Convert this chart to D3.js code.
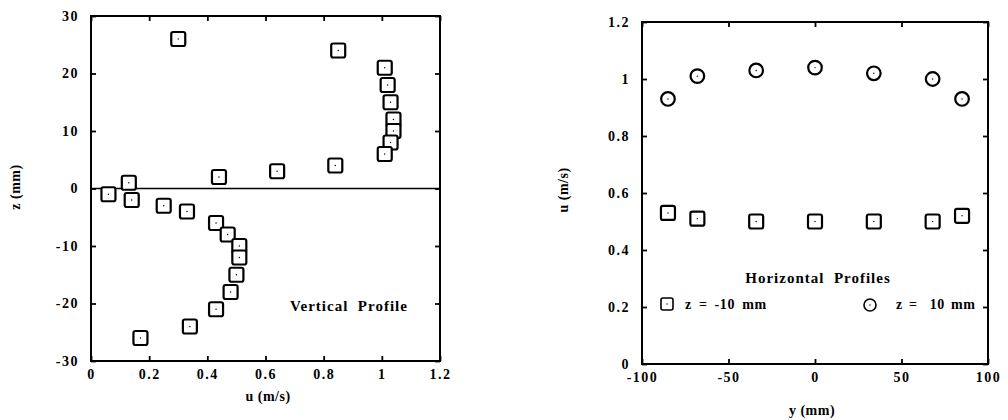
<!DOCTYPE html>
<html>
<head>
<meta charset="utf-8">
<script src="https://cdn.jsdelivr.net/npm/d3@7"></script>
<style>
  body { margin: 0; background: #fff; }
  text { font-family: "Liberation Serif", "DejaVu Serif", serif; font-weight: bold; fill: #000; }
</style>
</head>
<body>
<div id="chart"></div>
<script>
// Vertical profile data (left panel)
var vertU = [0.30, 0.85, 1.01, 1.02, 1.03, 1.04, 1.04, 1.03, 1.01, 0.84, 0.64, 0.44, 0.13, 0.06, 0.14, 0.25, 0.33, 0.43, 0.47, 0.51, 0.51, 0.50, 0.48, 0.43, 0.34, 0.17];
var vertZ = [26, 24, 21, 18, 15, 12, 10, 8, 6, 4, 3, 2, 1, -1, -2, -3, -4, -6, -8, -10, -12, -15, -18, -21, -24, -26];

// Horizontal profile data (right panel)
var horizY = [-85, -68, -34, 0, 34, 68, 85];
var uMinus10 = [0.53, 0.51, 0.50, 0.50, 0.50, 0.50, 0.52];
var uPlus10 = [0.93, 1.01, 1.03, 1.04, 1.02, 1.00, 0.93];

// Tick values
var leftXTicks = [0, 0.2, 0.4, 0.6, 0.8, 1, 1.2];
var leftYTicks = [-30, -20, -10, 0, 10, 20, 30];
var rightXTicks = [-100, -50, 0, 50, 100];
var rightYTicks = [0, 0.2, 0.4, 0.6, 0.8, 1, 1.2];

var svgWidth = 1008;
var svgHeight = 420;

var svg = d3.select("#chart")
  .append("svg")
  .attr("width", svgWidth)
  .attr("height", svgHeight);

var fmt = d => String(d).replace("\u2212", "-");

// draws frame + inward ticks on all four sides
function drawFrame(x, y, xTicks, yTicks) {
  var x0 = x.range()[0], x1 = x.range()[1];
  var y0 = y.range()[0], y1 = y.range()[1];

  svg.append("g")
    .attr("transform", `translate(0, ${y0})`)
    .call(d3.axisBottom(x).tickValues(xTicks).tickFormat(fmt).tickSizeInner(-5).tickSizeOuter(0).tickPadding(8))
    .call(g => g.select(".domain").remove());
  svg.append("g")
    .attr("transform", `translate(0, ${y1})`)
    .call(d3.axisTop(x).tickValues(xTicks).tickFormat("").tickSizeInner(-5).tickSizeOuter(0))
    .call(g => g.select(".domain").remove());
  svg.append("g")
    .attr("transform", `translate(${x0}, 0)`)
    .call(d3.axisLeft(y).tickValues(yTicks).tickFormat(fmt).tickSizeInner(-5).tickSizeOuter(0).tickPadding(12))
    .call(g => g.select(".domain").remove());
  svg.append("g")
    .attr("transform", `translate(${x1}, 0)`)
    .call(d3.axisRight(y).tickValues(yTicks).tickFormat("").tickSizeInner(-5).tickSizeOuter(0))
    .call(g => g.select(".domain").remove());

  svg.selectAll(".tick line").attr("stroke", "#000").attr("stroke-width", 1.8);
  svg.selectAll(".tick text")
    .attr("font-size", "14px")
    .attr("font-family", "Liberation Serif, serif")
    .attr("font-weight", "bold")
    .attr("letter-spacing", "1.5px")
    .attr("fill", "#000");

  svg.append("rect")
    .attr("x", x0)
    .attr("y", y1)
    .attr("width", x1 - x0)
    .attr("height", y0 - y1)
    .attr("fill", "none")
    .attr("stroke", "#000")
    .attr("stroke-width", 2);
}

function squareMark(g, cx, cy, s, sw) {
  s = s || 14;
  g.append("rect")
    .attr("x", cx - s / 2).attr("y", cy - s / 2)
    .attr("width", s).attr("height", s)
    .attr("rx", 2)
    .attr("fill", "#fff")
    .attr("stroke", "#000")
    .attr("stroke-width", sw || 2.2);
  g.append("circle").attr("cx", cx).attr("cy", cy).attr("r", 0.7).attr("fill", "#000");
}

function circleMark(g, cx, cy, r, sw) {
  g.append("circle")
    .attr("cx", cx).attr("cy", cy)
    .attr("r", r || 6.8)
    .attr("fill", "#fff")
    .attr("stroke", "#000")
    .attr("stroke-width", sw || 2.2);
  g.append("circle").attr("cx", cx).attr("cy", cy).attr("r", 0.7).attr("fill", "#000");
}

// ---------- Left panel: vertical profile ----------
var xL = d3.scaleLinear().domain([0, 1.2]).range([91, 440]);
var yL = d3.scaleLinear().domain([-30, 30]).range([361, 16]);

drawFrame(xL, yL, leftXTicks, leftYTicks);

// zero line
svg.append("line")
  .attr("x1", xL(0)).attr("x2", xL(1.2))
  .attr("y1", yL(0)).attr("y2", yL(0))
  .attr("stroke", "#000")
  .attr("stroke-width", 1.5);

vertU.forEach(function(u, i) {
  squareMark(svg.append("g"), xL(u), yL(vertZ[i]));
});

svg.append("text")
  .attr("x", 349).attr("y", 311)
  .attr("text-anchor", "middle")
  .attr("font-size", "15px")
  .attr("letter-spacing", "1px")
  .attr("xml:space", "preserve")
  .text("Vertical  Profile");

svg.append("text")
  .attr("x", 268).attr("y", 401)
  .attr("text-anchor", "middle")
  .attr("font-size", "14px")
  .attr("letter-spacing", "0.5px")
  .text("u (m/s)");

svg.append("text")
  .attr("transform", "translate(20, 187) rotate(-90)")
  .attr("text-anchor", "middle")
  .attr("font-size", "14px")
  .attr("letter-spacing", "0.5px")
  .text("z (mm)");

// ---------- Right panel: horizontal profiles ----------
var xR = d3.scaleLinear().domain([-100, 100]).range([642, 988]);
var yR = d3.scaleLinear().domain([0, 1.2]).range([364, 22]);

drawFrame(xR, yR, rightXTicks, rightYTicks);

horizY.forEach(function(yv, i) {
  squareMark(svg.append("g"), xR(yv), yR(uMinus10[i]));
  circleMark(svg.append("g"), xR(yv), yR(uPlus10[i]));
});

svg.append("text")
  .attr("x", 818).attr("y", 283)
  .attr("text-anchor", "middle")
  .attr("font-size", "15px")
  .attr("letter-spacing", "1px")
  .attr("xml:space", "preserve")
  .text("Horizontal  Profiles");

// legend
squareMark(svg.append("g"), 667, 304, 12, 1.6);
svg.append("text")
  .attr("x", 685).attr("y", 309)
  .attr("font-size", "14px")
  .attr("letter-spacing", "0.6px")
  .attr("word-spacing", "3px")
  .text("z = -10 mm");
circleMark(svg.append("g"), 870, 305, 6, 1.6);
svg.append("text")
  .attr("x", 896).attr("y", 309)
  .attr("font-size", "14px")
  .attr("letter-spacing", "0.6px")
  .attr("word-spacing", "2px")
  .attr("xml:space", "preserve")
  .text("z =  10 mm");

svg.append("text")
  .attr("x", 812).attr("y", 415)
  .attr("text-anchor", "middle")
  .attr("font-size", "14px")
  .attr("letter-spacing", "0.5px")
  .text("y (mm)");

svg.append("text")
  .attr("transform", "translate(568, 190) rotate(-90)")
  .attr("text-anchor", "middle")
  .attr("font-size", "14px")
  .attr("letter-spacing", "0.5px")
  .text("u (m/s)");
</script>
</body>
</html>
